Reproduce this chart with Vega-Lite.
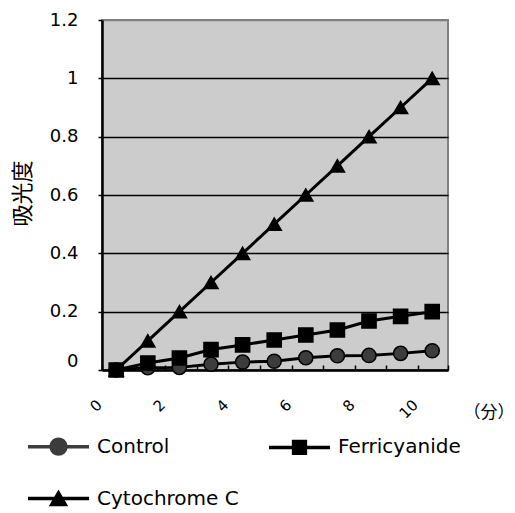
{
  "$schema": "https://vega.github.io/schema/vega-lite/v6.json",
  "width": 346,
  "height": 350,
  "autosize": {"type": "none"},
  "padding": {"left": 102, "top": 20, "right": 67, "bottom": 143},
  "background": "white",
  "data": {
    "values": [
      {"series": "Control", "t": 0, "v": 0},
      {"series": "Control", "t": 1, "v": 0.008},
      {"series": "Control", "t": 2, "v": 0.009},
      {"series": "Control", "t": 3, "v": 0.02},
      {"series": "Control", "t": 4, "v": 0.027},
      {"series": "Control", "t": 5, "v": 0.03},
      {"series": "Control", "t": 6, "v": 0.042},
      {"series": "Control", "t": 7, "v": 0.049},
      {"series": "Control", "t": 8, "v": 0.05},
      {"series": "Control", "t": 9, "v": 0.057},
      {"series": "Control", "t": 10, "v": 0.066},
      {"series": "Ferricyanide", "t": 0, "v": 0},
      {"series": "Ferricyanide", "t": 1, "v": 0.024},
      {"series": "Ferricyanide", "t": 2, "v": 0.041},
      {"series": "Ferricyanide", "t": 3, "v": 0.07},
      {"series": "Ferricyanide", "t": 4, "v": 0.086},
      {"series": "Ferricyanide", "t": 5, "v": 0.103},
      {"series": "Ferricyanide", "t": 6, "v": 0.12},
      {"series": "Ferricyanide", "t": 7, "v": 0.137},
      {"series": "Ferricyanide", "t": 8, "v": 0.168},
      {"series": "Ferricyanide", "t": 9, "v": 0.184},
      {"series": "Ferricyanide", "t": 10, "v": 0.2},
      {"series": "Cytochrome C", "t": 0, "v": 0},
      {"series": "Cytochrome C", "t": 1, "v": 0.1},
      {"series": "Cytochrome C", "t": 2, "v": 0.2},
      {"series": "Cytochrome C", "t": 3, "v": 0.3},
      {"series": "Cytochrome C", "t": 4, "v": 0.4},
      {"series": "Cytochrome C", "t": 5, "v": 0.5},
      {"series": "Cytochrome C", "t": 6, "v": 0.6},
      {"series": "Cytochrome C", "t": 7, "v": 0.7},
      {"series": "Cytochrome C", "t": 8, "v": 0.8},
      {"series": "Cytochrome C", "t": 9, "v": 0.9},
      {"series": "Cytochrome C", "t": 10, "v": 1.0}
    ]
  },
  "encoding": {
    "x": {
      "field": "t",
      "type": "quantitative",
      "scale": {"domain": [-0.45, 10.5], "nice": false, "zero": false},
      "axis": {
        "values": [-0.45, 0.55, 1.55, 2.55, 3.55, 4.55, 5.55, 6.55, 7.55, 8.55, 9.55, 10.5],
        "labelExpr": "(datum.value < 10 && round(datum.value + 0.45) % 2 == 0) ? '' + round(datum.value + 0.45) : ''",
        "labelAngle": -45,
        "labelAlign": "right",
        "labelBaseline": "middle",
        "labelPadding": 37,
        "labelOffset": -3,
        "labelFont": "DejaVu Sans",
        "labelFontSize": 15,
        "labelColor": "black",
        "labelFlush": false,
        "labelOverlap": false,
        "labelBound": false,
        "tickSize": -5,
        "tickColor": "black",
        "tickWidth": 1.5,
        "domainColor": "black",
        "domainWidth": 2.5,
        "grid": false,
        "title": "（分）",
        "titleFont": "Noto Sans CJK JP",
        "titleFontSize": 17,
        "titleFontWeight": "normal",
        "titleColor": "black",
        "titleX": 361,
        "titleY": 42,
        "titleAlign": "left",
        "titleBaseline": "middle",
        "titleAngle": 0
      }
    },
    "y": {
      "field": "v",
      "type": "quantitative",
      "scale": {"domain": [0, 1.2], "nice": false},
      "axis": {
        "values": [0, 0.2, 0.4, 0.6, 0.8, 1, 1.2],
        "format": "~g",
        "labelFont": "DejaVu Sans",
        "labelFontSize": 18,
        "labelColor": "black",
        "labelPadding": 20,
        "labelFlush": false,
        "labelOverlap": false,
        "labelBaseline": {"condition": {"test": "datum.value == 0", "value": "bottom"}, "value": "middle"},
        "tickSize": 4,
        "tickColor": "black",
        "tickWidth": 1.5,
        "domainColor": "black",
        "domainWidth": 2.5,
        "grid": true,
        "gridColor": {"condition": {"test": "datum.value > 1.1", "value": "#808080"}, "value": "black"},
        "gridWidth": 1.5,
        "gridOpacity": 1,
        "title": "吸光度",
        "titleFont": "Noto Sans CJK JP",
        "titleFontSize": 22,
        "titleFontWeight": "normal",
        "titleColor": "black",
        "titleX": -80,
        "titleY": 173,
        "titleAlign": "center",
        "titleBaseline": "middle",
        "titleAngle": 270
      }
    }
  },
  "layer": [
    {
      "mark": {"type": "line", "stroke": "black", "strokeWidth": 3},
      "encoding": {"detail": {"field": "series", "type": "nominal"}}
    },
    {
      "mark": {"type": "point", "filled": true, "opacity": 0, "stroke": "black", "strokeWidth": 1.5, "size": 2601},
      "encoding": {
        "shape": {
          "field": "series",
          "type": "nominal",
          "sort": ["Control", "Ferricyanide", "Cytochrome C"],
          "scale": {
            "domain": ["Control", "Ferricyanide", "Cytochrome C"],
            "range": [
              "M-1.196,-0.07L-0.353,-0.07L-0.312,-0.18L-0.231,-0.276L-0.123,-0.338L0,-0.36L0.123,-0.338L0.231,-0.276L0.312,-0.18L0.353,-0.07L1.196,-0.07L1.196,0.07L0.353,0.07L0.312,0.18L0.231,0.276L0.123,0.338L0,0.36L-0.123,0.338L-0.231,0.276L-0.312,0.18L-0.353,0.07L-1.196,0.07Z",
              "M-1.196,-0.07L-0.3,-0.07L-0.3,-0.3L0.3,-0.3L0.3,-0.07L1.196,-0.07L1.196,0.07L0.3,0.07L0.3,0.3L-0.3,0.3L-0.3,0.07L-1.196,0.07Z",
              "M-1.196,-0.07L-0.164,-0.07L0,-0.35L0.164,-0.07L1.196,-0.07L1.196,0.07L0.246,0.07L0.38,0.3L-0.38,0.3L-0.246,0.07L-1.196,0.07Z"
            ]
          },
          "legend": {
            "title": null,
            "orient": "none",
            "direction": "horizontal",
            "legendX": -70,
            "legendY": 400,
            "columns": 2,
            "columnPadding": 27,
            "rowPadding": 13,
            "symbolSize": 2601,
            "symbolOpacity": 1,
            "symbolStrokeColor": "black",
            "symbolStrokeWidth": 1.5,
            "labelFont": "DejaVu Sans",
            "labelFontSize": 20,
            "labelColor": "black",
            "labelOffset": 12,
            "labelLimit": 400
          }
        },
        "fill": {
          "field": "series",
          "type": "nominal",
          "sort": ["Control", "Ferricyanide", "Cytochrome C"],
          "scale": {"domain": ["Control", "Ferricyanide", "Cytochrome C"], "range": ["#3c3c3c", "black", "black"]},
          "legend": {
            "title": null,
            "orient": "none",
            "direction": "horizontal",
            "legendX": -70,
            "legendY": 400,
            "columns": 2,
            "columnPadding": 27,
            "rowPadding": 13,
            "symbolSize": 2601,
            "symbolOpacity": 1,
            "symbolStrokeColor": "black",
            "symbolStrokeWidth": 1.5,
            "labelFont": "DejaVu Sans",
            "labelFontSize": 20,
            "labelColor": "black",
            "labelOffset": 12,
            "labelLimit": 400
          }
        }
      }
    },
    {
      "mark": {"type": "point", "filled": true, "opacity": 1, "stroke": "black", "strokeWidth": 1.5, "size": 200},
      "encoding": {
        "shape": {
          "field": "series",
          "type": "nominal",
          "scale": {"domain": ["Control", "Ferricyanide", "Cytochrome C"], "range": ["circle", "square", "triangle-up"]},
          "legend": null
        },
        "fill": {
          "field": "series",
          "type": "nominal",
          "scale": {"domain": ["Control", "Ferricyanide", "Cytochrome C"], "range": ["#3c3c3c", "black", "black"]},
          "legend": null
        }
      }
    }
  ],
  "resolve": {
    "scale": {"shape": "independent", "fill": "independent"},
    "legend": {"shape": "independent", "fill": "independent"}
  },
  "config": {
    "view": {"fill": "#cccccc", "stroke": "#808080", "strokeWidth": 2}
  }
}
